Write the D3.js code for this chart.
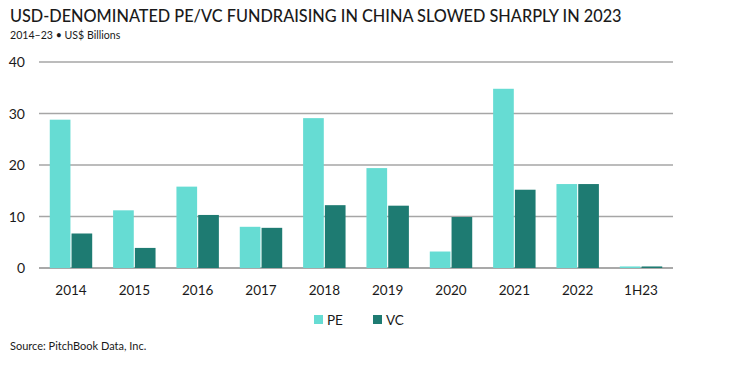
<!DOCTYPE html>
<html>
<head>
<meta charset="utf-8">
<script src="https://cdn.jsdelivr.net/npm/d3@7"></script>
<style>
  body { margin: 0; background: #fff; }
  text { font-family: Lato, "Noto Sans", sans-serif; }
</style>
</head>
<body>
<div id="chart"></div>
<script>
// data
var years = ["2014", "2015", "2016", "2017", "2018", "2019", "2020", "2021", "2022", "1H23"];
var peValues = [28.8, 11.2, 15.8, 8.0, 29.1, 19.4, 3.2, 34.8, 16.3, 0.3];
var vcValues = [6.7, 3.9, 10.3, 7.8, 12.2, 12.1, 9.9, 15.2, 16.3, 0.3];
var yTicks = [0, 10, 20, 30, 40];
var seriesNames = ["PE", "VC"];
var colors = ["#66dcd3", "#1e7b72"];

var width = 739, height = 368;
var svg = d3.select("#chart").append("svg")
  .attr("width", width).attr("height", height);

// scales
var x0 = d3.scaleBand().domain(years).range([39, 673])
  .paddingInner(0.33).paddingOuter(0.17);
var x1 = d3.scaleBand().domain(seriesNames).range([0, x0.bandwidth()]).paddingInner(0.05);
var y = d3.scaleLinear().domain([0, 40]).range([268, 62]);

// title
svg.append("text").attr("x", 10).attr("y", 22)
  .attr("font-size", 16.3).attr("fill", "#1a1a1a").attr("font-weight", 500)
  .text("USD-DENOMINATED PE/VC FUNDRAISING IN CHINA SLOWED SHARPLY IN 2023");
svg.append("text").attr("x", 10).attr("y", 39)
  .attr("font-size", 10.6).attr("fill", "#1a1a1a")
  .text("2014–23 • US$ Billions");

// gridlines
svg.append("g").selectAll("line").data(yTicks).enter().append("line")
  .attr("x1", 39).attr("x2", 673)
  .attr("y1", function (d) { return y(d); })
  .attr("y2", function (d) { return y(d); })
  .attr("stroke", function (d) { return d === 0 ? "#8c8c8c" : "#a6a6a6"; })
  .attr("stroke-width", 1.3);

// y labels
svg.append("g").selectAll("text").data(yTicks).enter().append("text")
  .attr("x", 25).attr("y", function (d) { return y(d) + 5; })
  .attr("text-anchor", "end").attr("font-size", 14).attr("fill", "#1a1a1a")
  .text(function (d) { return d; });

// bars
var rows = years.map(function (yr, i) {
  return { year: yr, vals: [peValues[i], vcValues[i]] };
});
var groups = svg.append("g").selectAll("g").data(rows).enter().append("g")
  .attr("transform", function (d) { return "translate(" + x0(d.year) + ",0)"; });
groups.selectAll("rect")
  .data(function (d) { return d.vals.map(function (v, j) { return { name: seriesNames[j], v: v, j: j }; }); })
  .enter().append("rect")
  .attr("x", function (d) { return x1(d.name); })
  .attr("width", x1.bandwidth())
  .attr("y", function (d) { return y(d.v); })
  .attr("height", function (d) { return y(0) - y(d.v); })
  .attr("fill", function (d) { return colors[d.j]; });

// x labels
svg.append("g").selectAll("text").data(years).enter().append("text")
  .attr("x", function (d) { return x0(d) + x0.bandwidth() / 2; })
  .attr("y", 295)
  .attr("text-anchor", "middle").attr("font-size", 13.5).attr("fill", "#1a1a1a")
  .text(function (d) { return d; });

// legend
var legendX = [314, 373];
var legend = svg.append("g").selectAll("g").data(seriesNames).enter().append("g")
  .attr("transform", function (d, i) { return "translate(" + legendX[i] + ",315)"; });
legend.append("rect").attr("width", 9).attr("height", 9)
  .attr("fill", function (d, i) { return colors[i]; });
legend.append("text").attr("x", 13).attr("y", 9.5)
  .attr("font-size", 13.5).attr("fill", "#1a1a1a")
  .text(function (d) { return d; });

// source
svg.append("text").attr("x", 10).attr("y", 350)
  .attr("font-size", 11).attr("fill", "#1a1a1a")
  .text("Source: PitchBook Data, Inc.");
</script>
</body>
</html>
